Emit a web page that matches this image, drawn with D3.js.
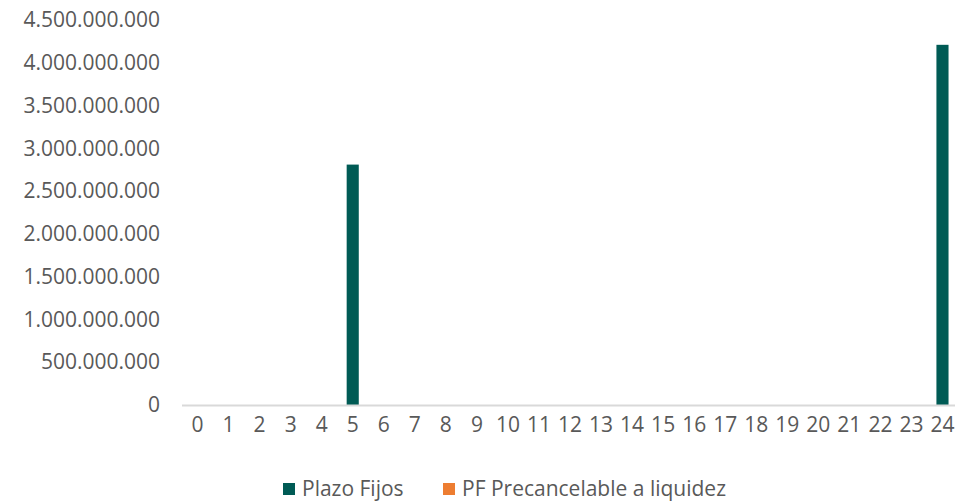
<!DOCTYPE html>
<html>
<head>
<meta charset="utf-8">
<script src="https://cdn.jsdelivr.net/npm/d3@7"></script>
<style>
  body { margin: 0; background: #fff; }
  text { font-family: "Open Sans", sans-serif; fill: #595959; }
</style>
</head>
<body>
<div id="chart"></div>
<script>
const width = 958;
const height = 503;
const margin = { top: 20, right: 0, bottom: 98, left: 182 };

// data
const categories = d3.range(0, 25).map(String);
const seriesNames = ["Plazo Fijos", "PF Precancelable a liquidez"];
const plazoFijos = [0, 0, 0, 0, 0, 2810000000, 0, 0, 0, 0, 0, 0, 0, 0, 0, 0, 0, 0, 0, 0, 0, 0, 0, 0, 4210000000];
const precancelable = [0, 0, 0, 0, 0, 0, 0, 0, 0, 0, 0, 0, 0, 0, 0, 0, 0, 0, 0, 0, 0, 0, 0, 0, 0];
const yTicks = [0, 500000000, 1000000000, 1500000000, 2000000000, 2500000000, 3000000000, 3500000000, 4000000000, 4500000000];
const colors = ["#005b55", "#ed7d31"];

const innerW = width - margin.left - margin.right;
const innerH = height - margin.top - margin.bottom;

const svg = d3
  .select("#chart")
  .append("svg")
  .attr("width", width)
  .attr("height", height)
  .append("g")
  .attr("transform", `translate(${margin.left},${margin.top})`);

const xScale = d3
  .scaleBand()
  .domain(categories)
  .range([0, innerW])
  .paddingInner(0.61)
  .paddingOuter(0.305);
const yScale = d3.scaleLinear().domain([0, 4500000000]).range([innerH, 0]);

const fmt = (v) => d3.format(",")(v).replace(/,/g, ".");

// y axis labels
const yAxis = svg
  .append("g")
  .call(d3.axisLeft(yScale).tickValues(yTicks).tickFormat(fmt).tickSize(0).tickPadding(22));
yAxis.select(".domain").remove();
yAxis.selectAll("text").style("font-size", "21px");

// bars
const rows = categories.map((c, i) => ({ cat: c, values: [plazoFijos[i], precancelable[i]] }));
svg
  .selectAll("rect.bar")
  .data(rows.filter((d) => d.values[0] > 0))
  .enter()
  .append("rect")
  .attr("class", "bar")
  .attr("x", (d) => xScale(d.cat))
  .attr("y", (d) => yScale(d.values[0]))
  .attr("width", xScale.bandwidth())
  .attr("height", (d) => innerH - yScale(d.values[0]))
  .attr("fill", colors[0]);

// x axis
const xAxis = svg
  .append("g")
  .attr("transform", `translate(0,${innerH})`)
  .call(d3.axisBottom(xScale).tickSize(0).tickPadding(12));
xAxis.select(".domain").attr("stroke", "#d9d9d9").attr("stroke-width", 2).attr("d", `M0,0.5H${innerW - 3}`);
xAxis.selectAll("text").style("font-size", "21px");

// legend
const legend = d3
  .select("#chart svg")
  .append("g")
  .attr("transform", "translate(283,489)");
const legendX = [0, 160];
seriesNames.forEach((name, i) => {
  legend
    .append("rect")
    .attr("x", legendX[i])
    .attr("y", -6)
    .attr("width", 12)
    .attr("height", 12)
    .attr("fill", colors[i]);
  legend
    .append("text")
    .attr("x", legendX[i] + 19)
    .attr("y", 0)
    .attr("dy", "0.35em")
    .style("font-size", "21px")
    .text(name);
});
</script>
</body>
</html>
